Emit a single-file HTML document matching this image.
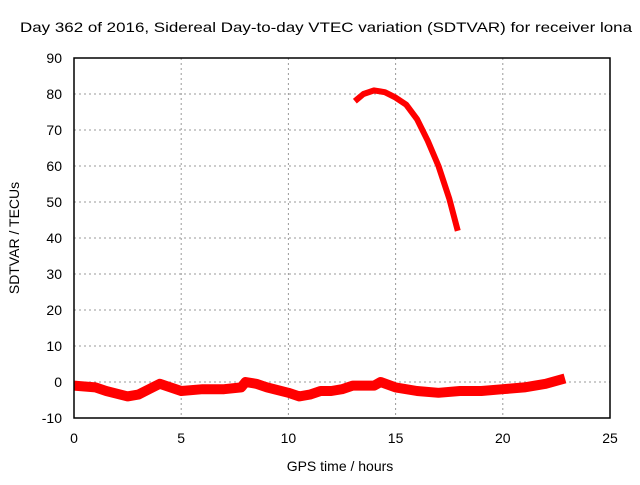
<!DOCTYPE html>
<html><head><meta charset="utf-8"><style>
body{margin:0;background:#fff;font-family:"Liberation Sans",sans-serif}
svg text{font-family:"Liberation Sans",sans-serif;font-size:14px;fill:#000}
</style></head><body>
<svg id="c" width="640" height="480">
<text x="20" y="32" textLength="612" lengthAdjust="spacingAndGlyphs">Day 362 of 2016, Sidereal Day-to-day VTEC variation (SDTVAR) for receiver lona</text>
<text x="340" y="471" text-anchor="middle">GPS time / hours</text>
<text transform="translate(19,238) rotate(-90)" text-anchor="middle">SDTVAR / TECUs</text>
<g id="grid"></g><g id="ticks"></g><g id="series"></g>
<rect x="74" y="58" width="536" height="360" fill="none" stroke="#000" stroke-width="1.5"/>
</svg>
<script>
const xTicks=[0,5,10,15,20,25];
const yTicks=[-10,0,10,20,30,40,50,60,70,80,90];
const lowHours=[0,1,1.5,2.5,3,3.5,4,4.5,5,6,7,7.8,8,8.5,9,10,10.5,11,11.5,12,12.5,13,14,14.3,15,16,17,18,19,20,21,22,22.9];
const lowVals=[-1,-1.5,-2.5,-4,-3.5,-2,-0.5,-1.5,-2.5,-2,-2,-1.5,0,-0.5,-1.5,-3,-4,-3.5,-2.5,-2.5,-2,-1,-1,0,-1.5,-2.5,-3,-2.5,-2.5,-2,-1.5,-0.5,1];
const highHours=[13.1,13.5,14,14.5,15,15.5,16,16.5,17,17.5,17.9];
const highVals=[78,80,81,80.5,79,77,73,67,60,51,42];
const X=h=>74+h*536/25, Y=v=>382-v*3.6;
const NS="http://www.w3.org/2000/svg";
function mk(tag,attrs,parent){const e=document.createElementNS(NS,tag);for(const k in attrs)e.setAttribute(k,attrs[k]);document.getElementById(parent).appendChild(e);return e;}
xTicks.forEach(t=>{
 if(t>0&&t<25){const g=mk('line',{x1:X(t),x2:X(t),y1:58,y2:418,stroke:'#999','stroke-dasharray':'2,3'},'grid');
 
 }
 const l=mk('text',{x:X(t),y:443,'text-anchor':'middle'},'ticks');l.textContent=t;
 
 
});
yTicks.forEach(t=>{
 if(t>-10&&t<90){const g=mk('line',{x1:74,x2:610,y1:Y(t),y2:Y(t),stroke:'#999','stroke-dasharray':'2,3'},'grid');
 
 }
 const l=mk('text',{x:62,y:Y(t)+5,'text-anchor':'end'},'ticks');l.textContent=t;
 
 
});
function series(hs,vs,name,w){
 const p=mk('polyline',{points:hs.map((h,i)=>X(h)+','+Y(vs[i])).join(' '),fill:'none',stroke:'#f00','stroke-width':w,'stroke-linejoin':'round'},'series');
 
 
}
series(lowHours,lowVals,'series-low-band',10);
series(highHours,highVals,'series-high-arc',6);
</script>
</body></html>
